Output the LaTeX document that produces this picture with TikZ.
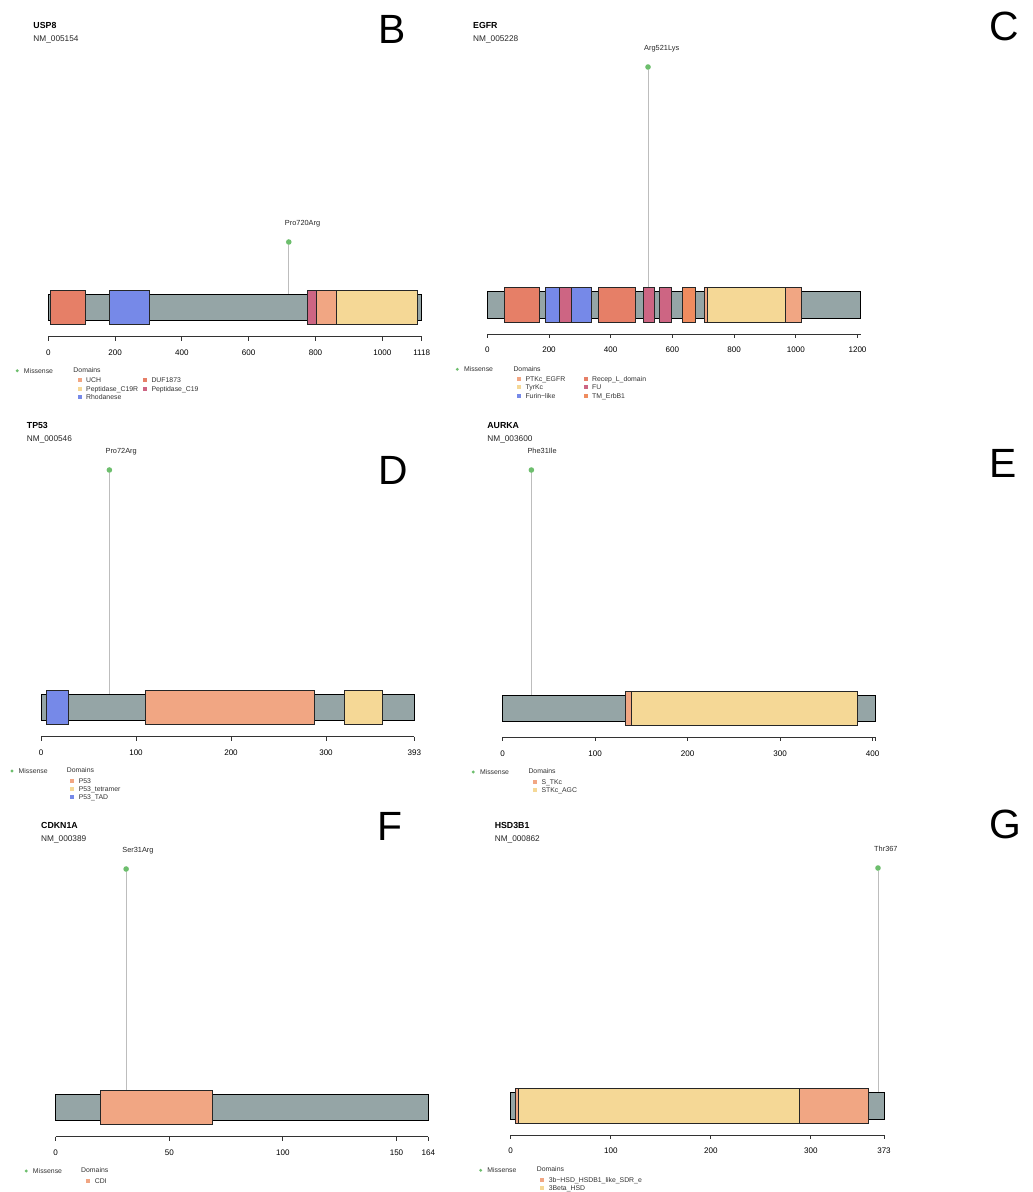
\documentclass[tikz,border=0pt]{standalone}
\usepackage{fontspec}
\setmainfont{Liberation Sans}

\definecolor{barGray}{HTML}{95A5A6}
\definecolor{domSalmon}{HTML}{F1A683}
\definecolor{domYellow}{HTML}{F5D896}
\definecolor{domBlue}{HTML}{7689E8}
\definecolor{domRed}{HTML}{E67F67}
\definecolor{domPink}{HTML}{CD6583}
\definecolor{domOrange}{HTML}{EF8C5F}
\definecolor{missGreen}{HTML}{6DBE6D}
\definecolor{stemGray}{HTML}{BDBDBD}
\definecolor{legGray}{HTML}{333333}

\tikzset{
  titletext/.style={font=\bfseries\fontsize{8.8}{10}\selectfont, anchor=base west, inner sep=0pt},
  acctext/.style={font=\fontsize{8.3}{10}\selectfont, anchor=base west, inner sep=0pt, text=black!85},
  panelletter/.style={font=\fontsize{41}{44}\selectfont, inner sep=0pt},
  ticklab/.style={font=\fontsize{8.1}{9}\selectfont, inner sep=0pt, text height=5.8bp, text depth=0bp},
  mutlab/.style={font=\fontsize{7.4}{8}\selectfont, anchor=base west, inner sep=0pt, text=black!85},
  legtext/.style={font=\fontsize{6.9}{8}\selectfont, anchor=west, inner sep=0pt,
    text height=4.9bp, text depth=0bp, text=legGray},
  protbar/.style={draw=black, line width=0.9bp, fill=barGray},
  dombox/.style={draw=black!85, line width=0.9bp},
  stem/.style={draw=stemGray, line width=0.8bp},
  mutdot/.style={circle, fill=missGreen, inner sep=0pt, minimum size=5.6bp},
  legdot/.style={circle, fill=missGreen, inner sep=0pt, minimum size=3.2bp},
  legsq/.style={inner sep=0pt, minimum size=3.8bp},
  axisline/.style={draw=black!80, line width=0.9bp},
}

% panel origin (x of residue 0), px per residue, bar centre line
\newcommand\setpanel[3]{\def\xo{#1}\def\sc{#2}\def\cy{#3}}
\newcommand\protein[1]{\draw[protbar] (\xo,\cy-13.2) rectangle ({\xo+\sc*#1},\cy+13.2);}
\newcommand\protdomain[3]{\draw[dombox,fill=#1] ({\xo+\sc*#2},\cy-17.2) rectangle ({\xo+\sc*#3},\cy+17.2);}
% id, last residue, labelled ticks
\newcommand\protaxis[3]{%
  \draw[axisline] (\xo,\cy+29) -- ({\xo+\sc*#2},\cy+29);
  \foreach \t in {#3} {
    \draw[axisline] ({\xo+\sc*\t},\cy+29) -- ({\xo+\sc*\t},\cy+33);
    \node[ticklab] (#1-t\t) at ({\xo+\sc*\t},\cy+45) {\t};
  }}
% id, residue, dot height, label
\newcommand\mutation[4]{%
  \node[mutdot] (#1-dot) at ({\xo+\sc*#2},#3) {};
  \coordinate (#1-base) at ({\xo+\sc*#2},\cy-13.2);
  \draw[stem] (#1-dot) -- (#1-base);
  \node[mutlab] (#1-lab) at ({\xo+\sc*#2-4},#3-16.5) {#4};}
% id, dot x, dot y, heading x, heading y
\newcommand\legendhead[5]{%
  \node[legdot] (#1-mdot) at (#2,#3) {};
  \node[legtext] (#1-mtxt) at (#2+6.5,#3) {Missense};
  \node[legtext] (#1-dhead) at (#4,#5) {Domains};}
% id, square x, y, colour, text
\newcommand\legitem[5]{%
  \node[legsq,fill=#4] (#1-sq) at (#2,#3) {};
  \node[legtext] (#1-txt) at (#2+6.3,#3) {#5};}

\begin{document}
\begin{tikzpicture}[x=1bp,y=-1bp]
\useasboundingbox[fill=white] (0,0) rectangle (1033,1192);

% ---------------- B: USP8 ----------------
\node[titletext] (B-title) at (33.3,28.5) {USP8};
\node[acctext] (B-acc) at (33.3,41.5) {NM\_005154};
\node[panelletter] (B-letter) at (392,29) {B};
\setpanel{48.3}{0.334}{307.5}
\mutation{B}{720}{242}{Pro720Arg}
\protein{1118}
\protdomain{domRed}{5}{112}
\protdomain{domBlue}{183}{303}
\protdomain{domPink}{776}{802}
\protdomain{domSalmon}{802}{864}
\protdomain{domYellow}{864}{1105}
\protaxis{B}{1118}{0,200,400,600,800,1000,1118}
\legendhead{B}{17.3}{370.7}{73.3}{370.3}
\legitem{B1}{79.7}{380}{domSalmon}{UCH}
\legitem{B2}{145}{380}{domRed}{DUF1873}
\legitem{B3}{79.7}{389}{domYellow}{Peptidase\_C19R}
\legitem{B4}{145}{389}{domPink}{Peptidase\_C19}
\legitem{B5}{79.7}{397.3}{domBlue}{Rhodanese}

% ---------------- C: EGFR ----------------
\node[titletext] (C-title) at (473,28.5) {EGFR};
\node[acctext] (C-acc) at (473,41.5) {NM\_005228};
\node[panelletter] (C-letter) at (1004,26) {C};
\setpanel{487.3}{0.3085}{305}
\mutation{C}{521}{67}{Arg521Lys}
\protein{1210}
\protdomain{domRed}{57}{168}
\protdomain{domBlue}{187}{338}
\protdomain{domPink}{233}{274}
\protdomain{domRed}{361}{481}
\protdomain{domPink}{506}{541}
\protdomain{domPink}{557}{598}
\protdomain{domOrange}{633}{675}
\protdomain{domSalmon}{703}{1019}
\protdomain{domYellow}{712}{968}
\protaxis{C}{1210}{0,200,400,600,800,1000,1200}
\legendhead{C}{457.3}{369.3}{513.3}{368.7}
\legitem{C1}{519}{378.7}{domSalmon}{PTKc\_EGFR}
\legitem{C2}{585.7}{378.7}{domRed}{Recep\_L\_domain}
\legitem{C3}{519}{387.3}{domYellow}{TyrKc}
\legitem{C4}{585.7}{387.3}{domPink}{FU}
\legitem{C5}{519}{395.7}{domBlue}{Furin−like}
\legitem{C6}{585.7}{395.7}{domOrange}{TM\_ErbB1}

% ---------------- D: TP53 ----------------
\node[titletext] (D-title) at (26.7,428.5) {TP53};
\node[acctext] (D-acc) at (26.7,441.5) {NM\_000546};
\node[panelletter] (D-letter) at (393,470) {D};
\setpanel{41}{0.95}{707.5}
\mutation{D}{72}{470}{Pro72Arg}
\protein{393}
\protdomain{domBlue}{6}{29}
\protdomain{domSalmon}{110}{288}
\protdomain{domYellow}{319}{359}
\protaxis{D}{393}{0,100,200,300,393}
\legendhead{D}{12}{771}{66.7}{770.3}
\legitem{D1}{72.3}{780.7}{domSalmon}{P53}
\legitem{D2}{72.3}{789}{domYellow}{P53\_tetramer}
\legitem{D3}{72.3}{797.3}{domBlue}{P53\_TAD}

% ---------------- E: AURKA ----------------
\node[titletext] (E-title) at (487.2,428.5) {AURKA};
\node[acctext] (E-acc) at (487.2,441.5) {NM\_003600};
\node[panelletter] (E-letter) at (1003,463) {E};
\setpanel{502.7}{0.925}{708.3}
\mutation{E}{31}{470}{Phe31Ile}
\protein{403}
\protdomain{domSalmon}{133}{383}
\protdomain{domYellow}{139.5}{383}
\protaxis{E}{403}{0,100,200,300,400}
\draw[axisline] ({\xo+\sc*403},\cy+29) -- ({\xo+\sc*403},\cy+33);
\legendhead{E}{473.3}{772}{528.3}{771}
\legitem{E1}{535}{781.7}{domSalmon}{S\_TKc}
\legitem{E2}{535}{790.3}{domYellow}{STKc\_AGC}

% ---------------- F: CDKN1A ----------------
\node[titletext] (F-title) at (41,828.3) {CDKN1A};
\node[acctext] (F-acc) at (41,841.5) {NM\_000389};
\node[panelletter] (F-letter) at (390,826) {F};
\setpanel{55.7}{2.272}{1107.5}
\mutation{F}{31}{869}{Ser31Arg}
\protein{164}
\protdomain{domSalmon}{19.5}{69}
\protaxis{F}{164}{0,50,100,150,164}
\legendhead{F}{26.3}{1171}{81}{1170.3}
\legitem{F1}{88.3}{1180.7}{domSalmon}{CDI}

% ---------------- G: HSD3B1 ----------------
\node[titletext] (G-title) at (494.6,828.3) {HSD3B1};
\node[acctext] (G-acc) at (494.6,841.5) {NM\_000862};
\node[panelletter] (G-letter) at (1005,824) {G};
\setpanel{510.7}{1.0008}{1106}
\mutation{G}{367}{868}{Thr367}
\protein{373}
\protdomain{domSalmon}{5}{357}
\protdomain{domYellow}{8}{288.6}
\protaxis{G}{373}{0,100,200,300,373}
\legendhead{G}{480.7}{1170.3}{536.7}{1169}
\legitem{G1}{542.3}{1179.7}{domSalmon}{3b−HSD\_HSDB1\_like\_SDR\_e}
\legitem{G2}{542.3}{1188.3}{domYellow}{3Beta\_HSD}
\end{tikzpicture}
\end{document}
